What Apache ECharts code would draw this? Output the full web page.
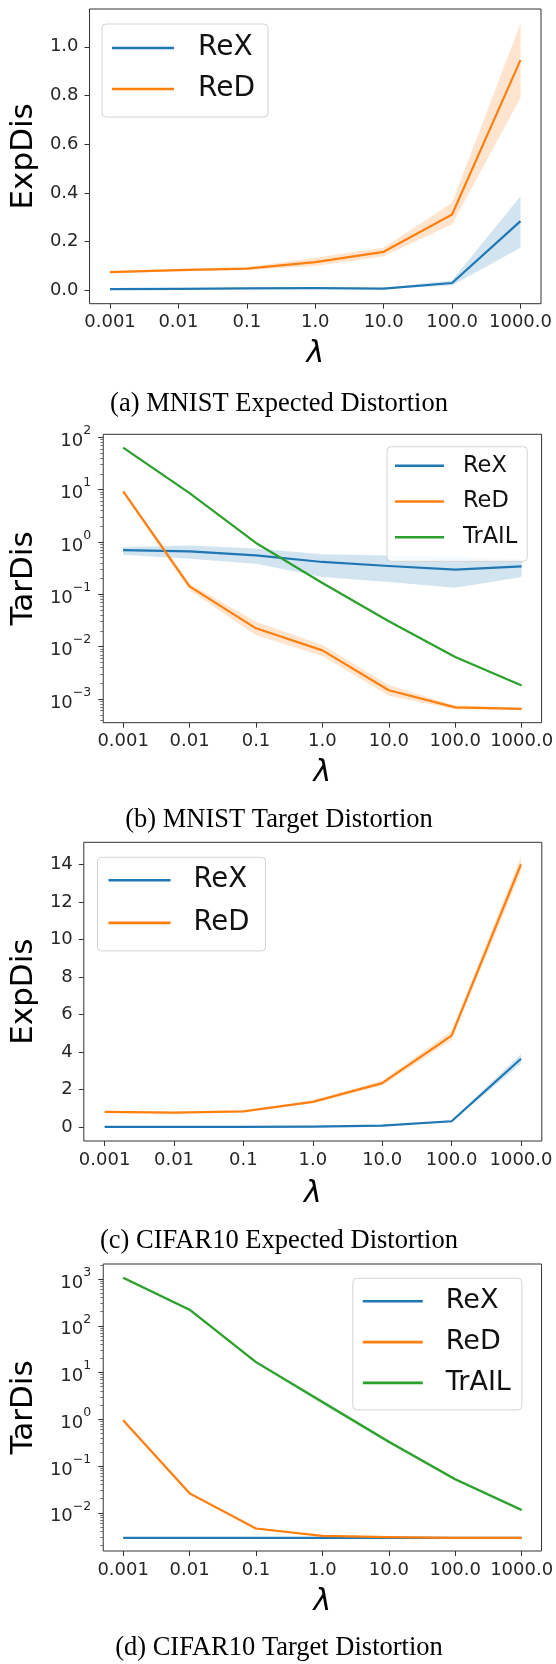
<!DOCTYPE html>
<html>
<head>
<meta charset="utf-8">
<script src="https://cdn.jsdelivr.net/npm/echarts@6/dist/echarts.min.js"></script>
<style>
  html, body { margin: 0; padding: 0; background: #fff; }
  #chart { width: 556px; height: 1664px; }
</style>
</head>
<body>
<div id="chart"></div>
<script>
// x categories (lambda)
const lambdas = ['0.001', '0.01', '0.1', '1.0', '10.0', '100.0', '1000.0'];

// (a) MNIST expected distortion
const rexA = [0.005, 0.006, 0.008, 0.009, 0.007, 0.030, 0.284];
const rexALo = [0.003, 0.004, 0.006, 0.007, 0.005, 0.020, 0.175];
const rexAHi = [0.007, 0.008, 0.010, 0.011, 0.009, 0.040, 0.386];
const redA = [0.075, 0.083, 0.089, 0.116, 0.158, 0.311, 0.945];
const redALo = [0.071, 0.078, 0.083, 0.100, 0.140, 0.270, 0.791];
const redAHi = [0.079, 0.088, 0.095, 0.134, 0.176, 0.360, 1.095];
const ticksA = [0.0, 0.2, 0.4, 0.6, 0.8, 1.0];

// (b) MNIST target distortion
const rexB = [0.70, 0.66, 0.556, 0.415, 0.348, 0.296, 0.343];
const rexBLo = [0.57, 0.48, 0.385, 0.214, 0.172, 0.134, 0.214];
const rexBHi = [0.80, 0.86, 0.75, 0.58, 0.55, 0.53, 0.48];
const redB = [9.3, 0.142, 0.0224, 0.0085, 0.00147, 0.00069, 0.00065];
const redBLo = [8.5, 0.12, 0.0165, 0.0066, 0.00115, 0.00064, 0.00062];
const redBHi = [10.2, 0.16, 0.030, 0.0108, 0.00185, 0.00075, 0.00068];
const trailB = [63.5, 8.6, 0.957, 0.165, 0.0305, 0.00635, 0.00182];
const ticksB = [1e-3, 1e-2, 1e-1, 1, 10, 100];

// (c) CIFAR10 expected distortion
const rexC = [0.02, 0.02, 0.02, 0.03, 0.09, 0.32, 3.65];
const rexCLo = [0.0, 0.0, 0.0, 0.0, 0.05, 0.27, 3.40];
const rexCHi = [0.05, 0.05, 0.05, 0.06, 0.13, 0.37, 3.90];
const redC = [0.82, 0.78, 0.85, 1.35, 2.35, 4.88, 14.0];
const redCLo = [0.78, 0.74, 0.80, 1.28, 2.22, 4.65, 13.6];
const redCHi = [0.86, 0.82, 0.90, 1.42, 2.48, 5.12, 14.4];
const ticksC = [0, 2, 4, 6, 8, 10, 12, 14];

// (d) CIFAR10 target distortion
const rexD = [0.0029, 0.0029, 0.0029, 0.0029, 0.0029, 0.0029, 0.0029];
const redD = [0.95, 0.026, 0.0046, 0.0032, 0.0030, 0.0029, 0.0029];
const redDLo = [0.88, 0.024, 0.0044, 0.0031, 0.0029, 0.0028, 0.0028];
const redDHi = [1.03, 0.028, 0.0048, 0.0033, 0.0031, 0.0030, 0.0030];
const trailD = [1066, 221, 16.7, 2.34, 0.33, 0.052, 0.0115];
const trailDLo = [1000, 205, 15.5, 2.1, 0.30, 0.048, 0.0105];
const trailDHi = [1130, 236, 18, 2.6, 0.36, 0.056, 0.0125];
const ticksD = [1e-2, 1e-1, 1, 10, 100, 1000];

const BLUE = '#1f77b4', ORANGE = '#ff7f0e', GREEN = '#2ca02c';
const FONT = 'DejaVu Sans';
const INK = '#262626';

// minor ticks of a log axis, 2..9 x 10^e
function minorTicks(lo, hi) {
  const out = [];
  for (let e = -5; e <= 4; e++) {
    for (let m = 2; m <= 9; m++) {
      const v = m * Math.pow(10, e);
      if (v > lo && v < hi) out.push(v);
    }
  }
  return out;
}

function powLabel(v) {
  const l = Math.log10(v);
  const e = Math.round(l);
  if (Math.abs(l - e) > 1e-6) return '';
  return '{b|10}{s|' + (e < 0 ? '\u2212' + (-e) : e) + '}';
}

const panels = [
  {
    grid: { left: 86, top: 9, width: 455, height: 294.7 },
    log: false, yMin: -0.055, yMax: 1.155, yTicks: ticksA, yFmt: v => v.toFixed(1),
    yName: 'ExpDis', yNameGap: 45, xNameGap: 36,
    lines: [['ReX', BLUE, rexA], ['ReD', ORANGE, redA]],
    bands: [[BLUE, rexALo, rexAHi], [ORANGE, redALo, redAHi]],
    legend: { left: 102, top: 24, font: 28, lh: 30, gap: 11, w: 62, tp: 19, pad: [9, 13, 13, 10] },
    caption: '(a) MNIST Expected Distortion', capY: 404
  },
  {
    grid: { left: 100, top: 434.3, width: 442.5, height: 288.4 },
    log: true, yMin: 3.526e-4, yMax: 114.1, yTicks: ticksB,
    yName: 'TarDis', yNameGap: 61, xNameGap: 36,
    lines: [['ReX', BLUE, rexB], ['ReD', ORANGE, redB], ['TrAIL', GREEN, trailB]],
    bands: [[BLUE, rexBLo, rexBHi], [ORANGE, redBLo, redBHi]],
    legend: { left: 387, top: 446.7, font: 22.5, lh: 26, gap: 9.8, w: 49, tp: 14, pad: [6, 10, 11, 8] },
    caption: '(b) MNIST Target Distortion', capY: 820
  },
  {
    grid: { left: 82.3, top: 842.3, width: 459.5, height: 298.7 },
    log: false, yMin: -0.73, yMax: 15.17, yTicks: ticksC, yFmt: v => String(Math.round(v)),
    yName: 'ExpDis', yNameGap: 41, xNameGap: 38,
    lines: [['ReX', BLUE, rexC], ['ReD', ORANGE, redC]],
    bands: [[BLUE, rexCLo, rexCHi], [ORANGE, redCLo, redCHi]],
    legend: { left: 97.5, top: 857.3, font: 27.5, lh: 30, gap: 12.6, w: 62, tp: 18, pad: [8, 16, 13, 11] },
    caption: '(c) CIFAR10 Expected Distortion', capY: 1241
  },
  {
    grid: { left: 100.5, top: 1264, width: 441.5, height: 287 },
    log: true, yMin: 1.52e-3, yMax: 2094, yTicks: ticksD,
    yName: 'TarDis', yNameGap: 62, xNameGap: 36,
    lines: [['ReX', BLUE, rexD], ['ReD', ORANGE, redD], ['TrAIL', GREEN, trailD]],
    bands: [[ORANGE, redDLo, redDHi], [GREEN, trailDLo, trailDHi]],
    legend: { left: 352.8, top: 1278.3, font: 27, lh: 30, gap: 10.8, w: 60, tp: 18, pad: [8, 11, 12, 10] },
    caption: '(d) CIFAR10 Target Distortion', capY: 1648
  }
];

const grid = [], xAxis = [], yAxis = [], series = [], legend = [], title = [];
const xIdx = [0, 1, 2, 3, 4, 5, 6];

panels.forEach((p, gi) => {
  grid.push(Object.assign({ show: true, borderColor: '#333', borderWidth: 1, backgroundColor: '#fff' }, p.grid));

  xAxis.push({
    type: 'value', gridIndex: gi, min: -0.3, max: 6.3, position: 'bottom',
    name: 'λ', nameLocation: 'middle', nameGap: p.xNameGap,
    nameTextStyle: { fontFamily: FONT, fontSize: 30, fontStyle: 'italic', color: '#000' },
    axisLine: { show: false, onZero: false },
    splitLine: { show: false },
    axisTick: { show: true, inside: false, length: 5, customValues: xIdx, lineStyle: { color: '#333', width: 1 } },
    axisLabel: {
      customValues: xIdx, margin: 10, fontFamily: FONT, fontSize: 18, color: INK,
      formatter: v => lambdas[Math.round(v)]
    }
  });

  const yi = yAxis.length;
  yAxis.push({
    type: p.log ? 'log' : 'value', gridIndex: gi, min: p.yMin, max: p.yMax, position: 'left',
    name: p.yName, nameLocation: 'middle', nameGap: p.yNameGap,
    nameTextStyle: { fontFamily: FONT, fontSize: 31, color: '#000' },
    axisLine: { show: false, onZero: false },
    splitLine: { show: false },
    axisTick: { show: true, length: 5, customValues: p.yTicks, lineStyle: { color: '#333', width: 1 } },
    axisLabel: p.log ? {
      customValues: p.yTicks, margin: 12, formatter: powLabel,
      rich: {
        b: { fontFamily: FONT, fontSize: 18, color: INK, lineHeight: 26, verticalAlign: 'bottom' },
        s: { fontFamily: FONT, fontSize: 12.5, color: INK, lineHeight: 14, verticalAlign: 'top' }
      }
    } : {
      customValues: p.yTicks, margin: 11, fontFamily: FONT, fontSize: 18, color: INK, formatter: p.yFmt
    }
  });
  if (p.log) {
    yAxis.push({
      type: 'log', gridIndex: gi, min: p.yMin, max: p.yMax, position: 'left', offset: 0,
      axisLine: { show: false, onZero: false }, splitLine: { show: false }, axisLabel: { show: false },
      axisTick: { show: true, length: 3, customValues: minorTicks(p.yMin, p.yMax), lineStyle: { color: '#555', width: 0.8 } }
    });
  }

  p.bands.forEach(([color, lo, hi]) => {
    series.push({
      type: 'custom', xAxisIndex: gi, yAxisIndex: yi, z: 1, silent: true, clip: true,
      data: lo.map((v, i) => [i, v, hi[i]]),
      encode: { x: 0, y: [1, 2] },
      renderItem(params, api) {
        if (params.dataIndex !== 0) return;
        const pts = [];
        for (let i = 0; i < lo.length; i++) pts.push(api.coord([i, lo[i]]));
        for (let i = hi.length - 1; i >= 0; i--) pts.push(api.coord([i, hi[i]]));
        return { type: 'polygon', shape: { points: pts }, style: { fill: color, opacity: 0.2 } };
      }
    });
  });

  p.lines.forEach(([name, color, vals]) => {
    series.push({
      name, type: 'line', xAxisIndex: gi, yAxisIndex: yi, z: 3,
      showSymbol: false, symbol: 'none', silent: true,
      color,
      lineStyle: { color, width: 2.2, join: 'round' },
      data: vals.map((v, i) => [i, v])
    });
  });

  const L = p.legend;
  legend.push({
    orient: 'vertical', left: L.left, top: L.top, padding: L.pad, itemGap: L.gap,
    itemWidth: L.w, itemHeight: 2.6, icon: 'rect', selectedMode: false,
    backgroundColor: 'rgba(255,255,255,0.85)', borderColor: '#d4d4d4', borderWidth: 1, borderRadius: 4,
    textStyle: { fontFamily: FONT, fontSize: L.font, lineHeight: L.lh, color: '#111', padding: [0, 0, 0, L.tp] },
    data: p.lines.map(l => l[0])
  });

  title.push({
    text: p.caption, left: 279, top: p.capY - 14, textAlign: 'center', padding: 0,
    textStyle: { fontFamily: 'Liberation Serif', fontSize: 26.5, fontWeight: 'normal', color: '#000', lineHeight: 28 }
  });
});

const chart = echarts.init(document.getElementById('chart'), null, { renderer: 'canvas' });
chart.setOption({
  animation: false,
  backgroundColor: '#fff',
  title, grid, xAxis, yAxis, series, legend
});
</script>
</body>
</html>
